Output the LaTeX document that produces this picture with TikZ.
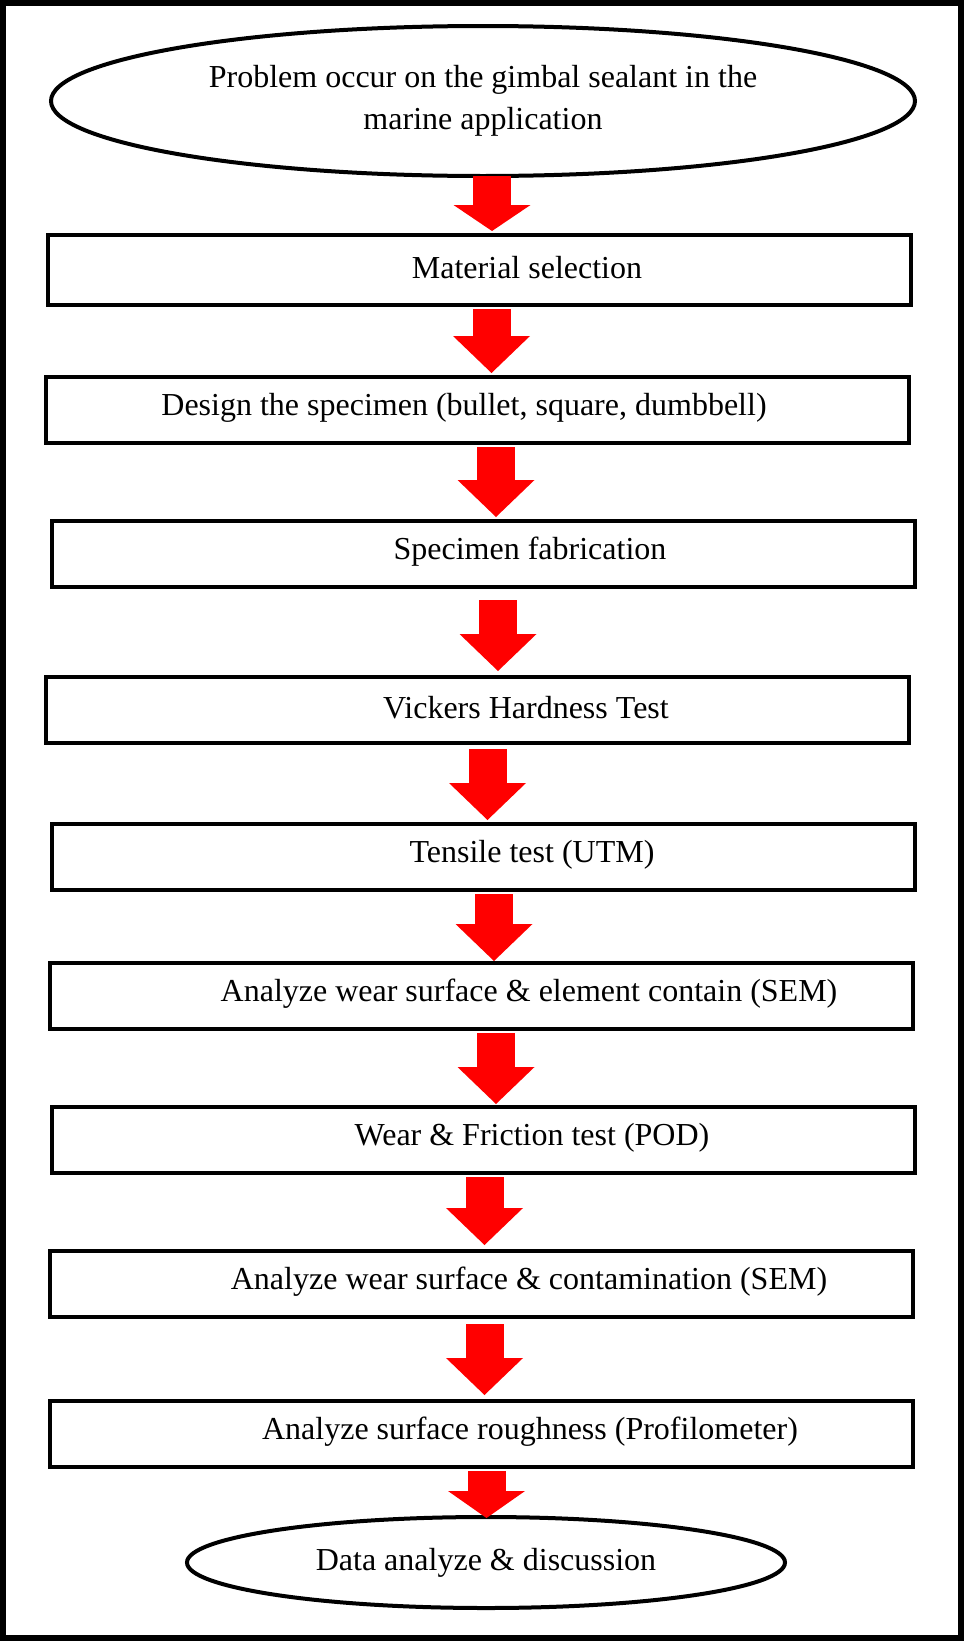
\documentclass[tikz,border=0pt]{standalone}
\usepackage{fontspec}
\setmainfont{Liberation Serif}
\usetikzlibrary{arrows.meta,shapes}
\tikzstyle{ocont}=[ellipse,draw=black,line width=4pt,inner sep=0pt,font=\fontsize{32pt}{42pt}\selectfont,align=center]
\tikzstyle{stepbox}=[rectangle,draw=black,line width=4pt,minimum width=863pt,minimum height=66pt,inner sep=0pt]
\tikzstyle{steptext}=[inner sep=0pt,font=\fontsize{32pt}{42pt}\selectfont]
\tikzstyle{flow}=[draw=red,line width=38pt,-{Triangle[length=37pt,width=77pt,line width=0pt]}]

\begin{document}
\begin{tikzpicture}[x=1pt,y=-1pt]
\useasboundingbox (0,0) rectangle (964,1641);
\draw[line width=6pt] (3,3) rectangle (961,1638);
\node[ocont,minimum width=864pt,minimum height=150pt] (P) at (483,101) {Problem occur on the gimbal sealant in the\\marine application};
\node[stepbox,minimum height=70pt] (B1) at (479.5,270) {};
\node[steptext] (T1) at ([xshift=47.5pt,yshift=2pt]B1.center) {Material selection};
\node[stepbox] (B2) at (477,410) {};
\node[steptext] (T2) at ([xshift=-13pt,yshift=2pt]B2.center) {Design the specimen (bullet, square, dumbbell)};
\node[stepbox] (B3) at (483,554) {};
\node[steptext] (T3) at ([xshift=47pt,yshift=2pt]B3.center) {Specimen fabrication};
\node[stepbox] (B4) at (477,709.5) {};
\node[steptext] (T4) at ([xshift=49pt,yshift=2pt]B4.center) {Vickers Hardness Test};
\node[stepbox] (B5) at (483.5,857) {};
\node[steptext] (T5) at ([xshift=48.5pt,yshift=2pt]B5.center) {Tensile test (UTM)};
\node[stepbox] (B6) at (481.5,996) {};
\node[steptext] (T6) at ([xshift=47.5pt,yshift=2pt]B6.center) {Analyze wear surface \& element contain (SEM)};
\node[stepbox] (B7) at (483.5,1140) {};
\node[steptext] (T7) at ([xshift=48.5pt,yshift=2pt]B7.center) {Wear \& Friction test (POD)};
\node[stepbox] (B8) at (481.5,1284) {};
\node[steptext] (T8) at ([xshift=47.5pt,yshift=2pt]B8.center) {Analyze wear surface \& contamination (SEM)};
\node[stepbox] (B9) at (481.5,1434) {};
\node[steptext] (T9) at ([xshift=48.5pt,yshift=2pt]B9.center) {Analyze surface roughness (Profilometer)};
\node[ocont,minimum width=598pt,minimum height=91pt] (D) at (486,1562.5) {Data analyze \& discussion};
% red block arrows
\draw[flow,-{Triangle[length=26pt,width=77pt,line width=0pt]}] ([xshift=9pt,yshift=2pt]P.south) -- ([xshift=12.5pt,yshift=2pt]B1.north);
\draw[flow] ([xshift=12pt,yshift=-2pt]B1.south) -- ([xshift=14.5pt,yshift=2pt]B2.north);
\draw[flow] ([xshift=19pt,yshift=-2pt]B2.south) -- ([xshift=13pt,yshift=2pt]B3.north);
\draw[flow] ([xshift=15pt,yshift=-11pt]B3.south) -- ([xshift=21pt,yshift=3.5pt]B4.north);
\draw[flow] ([xshift=10.5pt,yshift=-4.5pt]B4.south) -- ([xshift=4pt,yshift=2pt]B5.north);
\draw[flow] ([xshift=10.5pt,yshift=-2pt]B5.south) -- ([xshift=12.5pt]B6.north);
\draw[flow] ([xshift=14.5pt,yshift=-2pt]B6.south) -- ([xshift=12.5pt,yshift=1pt]B7.north);
\draw[flow] ([xshift=1pt,yshift=-2pt]B7.south) -- ([xshift=3pt,yshift=4pt]B8.north);
\draw[flow] ([xshift=3pt,yshift=-5pt]B8.south) -- ([xshift=3pt,yshift=4pt]B9.north);
\draw[flow,-{Triangle[length=27pt,width=77pt,line width=0pt]}] ([xshift=5pt,yshift=-2pt]B9.south) -- ([xshift=0.5pt,yshift=-3pt]D.north);
\end{tikzpicture}
\end{document}
